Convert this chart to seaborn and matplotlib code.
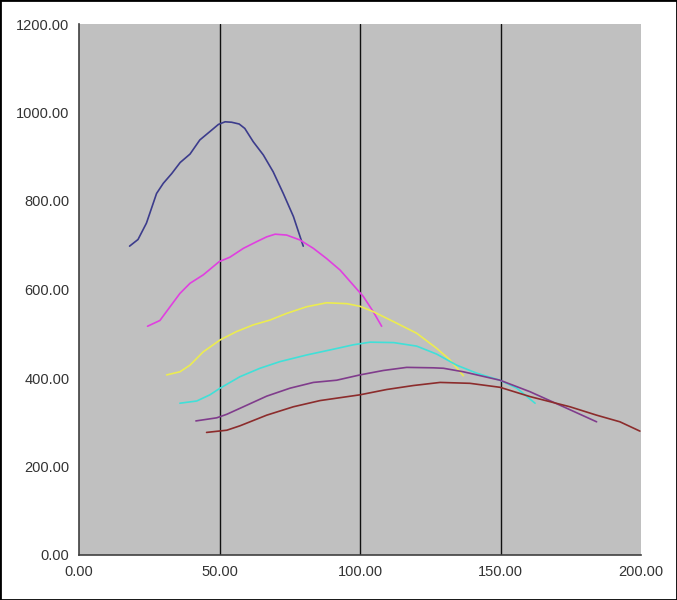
import matplotlib
matplotlib.use("Agg")
import matplotlib.pyplot as plt
import seaborn as sns
import pandas as pd
from matplotlib.patches import Rectangle

# series values
blue_x = [18, 21, 24, 27.6, 30, 33, 36, 39.5, 43, 46.6, 49.6, 52, 54.3, 57, 59, 62, 65.6, 69.1, 72.7, 76.3, 79.8]
blue_y = [698, 713, 750, 817, 840, 862, 887, 906, 938, 957, 973, 979, 978, 974, 964, 934, 904, 866, 817, 765, 698]

magenta_x = [24.4, 28.8, 32.4, 35.9, 39.5, 44.2, 49.9, 53.7, 58.5, 63.2, 66.8, 69.8, 73.9, 78.6, 83.4, 88.1, 92.9, 97.6, 101.2, 104.7, 107.7]
magenta_y = [517, 530, 561, 591, 614, 633, 663, 673, 693, 708, 719, 725, 723, 712, 693, 670, 644, 610, 584, 550, 517]

yellow_x = [31.2, 35.9, 39.5, 44.2, 50.2, 56.1, 62, 68, 73.9, 81, 88.1, 95.3, 100, 104.7, 113, 120.2, 127.3, 132, 136.8]
yellow_y = [407, 414, 429, 459, 486, 505, 520, 531, 546, 561, 570, 568, 562, 550, 524, 501, 467, 441, 405]

cyan_x = [35.9, 41.9, 46.6, 50.2, 57.3, 64.4, 71.5, 81, 90.5, 97.6, 103.6, 112, 120.2, 127.3, 134.4, 141.5, 149.8, 155.8, 162.3]
cyan_y = [343, 348, 362, 377, 403, 422, 437, 452, 465, 475, 481, 480, 472, 454, 429, 411, 395, 377, 343]

purple_x = [41.6, 49, 52.6, 58.5, 66.8, 75.1, 83.4, 91.7, 100, 108.3, 116.6, 126.1, 129.7, 136.8, 149.8, 160.5, 172.4, 184.2]
purple_y = [303, 310, 318, 335, 359, 377, 390, 395, 407, 417, 424, 423, 422, 414, 395, 369, 335, 301]

brown_x = [45.4, 52.6, 57.3, 66.8, 76.3, 85.8, 100, 109.5, 119, 128.5, 139.1, 149.8, 160.5, 174.7, 184.2, 192.5, 199.6]
brown_y = [277, 282, 292, 316, 335, 349, 362, 374, 383, 390, 388, 379, 358, 335, 316, 301, 280]

series = [
    ("blue", blue_x, blue_y, "#3c3c8c"),
    ("magenta", magenta_x, magenta_y, "#e040e0"),
    ("yellow", yellow_x, yellow_y, "#ecec50"),
    ("cyan", cyan_x, cyan_y, "#40e0d8"),
    ("purple", purple_x, purple_y, "#803c8c"),
    ("brown", brown_x, brown_y, "#8c2c2c"),
]

x_ticks = [0, 50, 100, 150, 200]
y_ticks = [0, 200, 400, 600, 800, 1000, 1200]

sns.set_style("white")
plt.rcParams['font.family'] = ['Liberation Sans', 'DejaVu Sans']

fig = plt.figure(figsize=(6.77, 6.0), dpi=100)
ax = fig.add_axes([79/677, 45/600, 562/677, 531/600])
ax.set_facecolor("#c0c0c0")

for nm, xs, ys, col in series:
    df = pd.DataFrame({"x": xs, "y": ys})
    sns.lineplot(data=df, x="x", y="y", ax=ax, sort=False, color=col, lw=1.2, estimator=None)

for v in [50, 100, 150]:
    ax.axvline(v, color="#101010", lw=1, zorder=0.5)

ax.set_xlim(0, 200)
ax.set_ylim(0, 1200)
ax.set_xticks(x_ticks)
ax.set_yticks(y_ticks)
ax.set_xticklabels([f"{t:.2f}" for t in x_ticks], fontsize=10.5, color="#333333")
ax.set_yticklabels([f"{t:.2f}" for t in y_ticks], fontsize=10.5, color="#333333")
ax.tick_params(axis="both", direction="out", length=4, width=1, color="#404040", pad=3)
ax.set_xlabel("")
ax.set_ylabel("")
for s in ["top", "right"]:
    ax.spines[s].set_visible(False)
for s in ["left", "bottom"]:
    ax.spines[s].set_color("#404040")
    ax.spines[s].set_linewidth(1.2)

fig.patches.append(Rectangle((0, 0), 1, 1, transform=fig.transFigure, fill=False,
                             edgecolor="black", lw=2))

fig.savefig("out.png", dpi=100)
